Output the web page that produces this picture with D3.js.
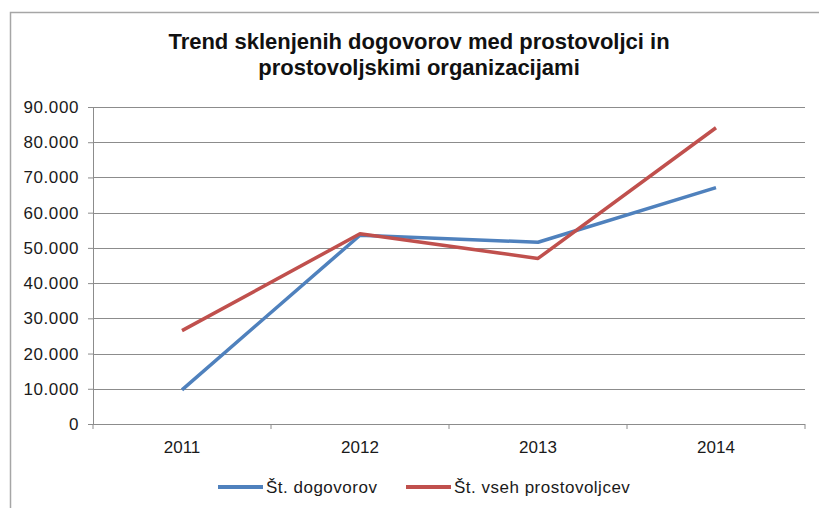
<!DOCTYPE html>
<html>
<head>
<meta charset="utf-8">
<script src="https://d3js.org/d3.v7.min.js"></script>
<style>
  body { margin: 0; background: #fff; }
  text { font-family: "Liberation Sans", Arial, sans-serif; }
</style>
</head>
<body>
<svg width="819" height="508"></svg>
<script>
const years = ["2011", "2012", "2013", "2014"];
const dogovorov = [9700, 53600, 51600, 67100];
const prostovoljcev = [26500, 54000, 47000, 84100];
const yTicks = [0, 10000, 20000, 30000, 40000, 50000, 60000, 70000, 80000, 90000];
const seriesNames = ["Št. dogovorov", "Št. vseh prostovoljcev"];
const colors = ["#4F81BD", "#C0504D"];

const svg = d3.select("svg");
const margin = {top: 107, left: 93, right: 14, bottom: 84};
const width = 819 - margin.left - margin.right;
const height = 508 - margin.top - margin.bottom;

// outer chart frame (only top and left edges are inside the picture)
svg.append("rect")
  .attr("x", 10.5).attr("y", 12.5)
  .attr("width", 900).attr("height", 600)
  .attr("fill", "none").attr("stroke", "#a6a6a6").attr("stroke-width", 1.5);

svg.append("text")
  .attr("x", 419).attr("y", 49)
  .attr("text-anchor", "middle").attr("font-size", 22).attr("font-weight", "bold")
  .attr("fill", "#111")
  .text("Trend sklenjenih dogovorov med prostovoljci in");
svg.append("text")
  .attr("x", 419).attr("y", 75)
  .attr("text-anchor", "middle").attr("font-size", 22).attr("font-weight", "bold")
  .attr("fill", "#111")
  .text("prostovoljskimi organizacijami");

const g = svg.append("g").attr("transform", "translate(" + margin.left + "," + margin.top + ")");

const x = d3.scaleBand().domain(years).range([0, width]);
const y = d3.scaleLinear().domain([0, 90000]).range([height, 0]);
const fmt = d => d === 0 ? "0" : d3.format(",")(d).replace(/,/g, ".");

// gridlines
g.append("g")
  .selectAll("line")
  .data(yTicks.slice(1))
  .enter().append("line")
  .attr("x1", 0).attr("x2", width)
  .attr("y1", d => Math.round(y(d)) + 0.5).attr("y2", d => Math.round(y(d)) + 0.5)
  .attr("stroke", "#8c8c8c").attr("stroke-width", 1);

// y axis
const yAxis = g.append("g")
  .call(d3.axisLeft(y).tickValues(yTicks).tickSize(5).tickFormat(fmt));
yAxis.select(".domain").attr("stroke", "#8c8c8c");
yAxis.selectAll(".tick line").attr("stroke", "#8c8c8c");
yAxis.selectAll(".tick text")
  .attr("font-size", 17).attr("fill", "#1a1a1a")
  .attr("letter-spacing", 0.6)
  .attr("font-family", "Liberation Sans, Arial, sans-serif")
  .attr("x", -14);

// x axis with ticks at category boundaries
const xAxis = g.append("g").attr("transform", "translate(0," + height + ")");
xAxis.append("line")
  .attr("x1", 0).attr("x2", width).attr("y1", 0.5).attr("y2", 0.5)
  .attr("stroke", "#8c8c8c");
xAxis.selectAll(".bound")
  .data(years.concat(["end"]))
  .enter().append("line")
  .attr("x1", (d, i) => i < years.length ? x(d) : width)
  .attr("x2", (d, i) => i < years.length ? x(d) : width)
  .attr("y1", 0).attr("y2", 5)
  .attr("stroke", "#8c8c8c");
xAxis.selectAll(".lbl")
  .data(years)
  .enter().append("text")
  .attr("x", d => x(d) + x.bandwidth() / 2)
  .attr("y", 29)
  .attr("text-anchor", "middle").attr("font-size", 17).attr("fill", "#1a1a1a")
  .text(d => d);

// lines
const line = d3.line()
  .x((d, i) => x(years[i]) + x.bandwidth() / 2)
  .y(d => y(d));

[dogovorov, prostovoljcev].forEach(function (vals, k) {
  g.append("path")
    .datum(vals)
    .attr("d", line)
    .attr("fill", "none")
    .attr("stroke", colors[k])
    .attr("stroke-width", 3.5)
    .attr("stroke-linejoin", "round");
});

// legend
const legendX = [218, 406];
const legend = svg.append("g")
  .selectAll("g")
  .data(seriesNames)
  .enter().append("g")
  .attr("transform", (d, i) => "translate(" + legendX[i] + ",487)");
legend.append("line")
  .attr("x1", 0).attr("x2", 45).attr("y1", 0).attr("y2", 0)
  .attr("stroke", (d, i) => colors[i]).attr("stroke-width", 4);
legend.append("text")
  .attr("x", 48).attr("y", 6)
  .attr("font-size", 17).attr("fill", "#1a1a1a")
  .attr("letter-spacing", 0.5)
  .text(d => d);
</script>
</body>
</html>
